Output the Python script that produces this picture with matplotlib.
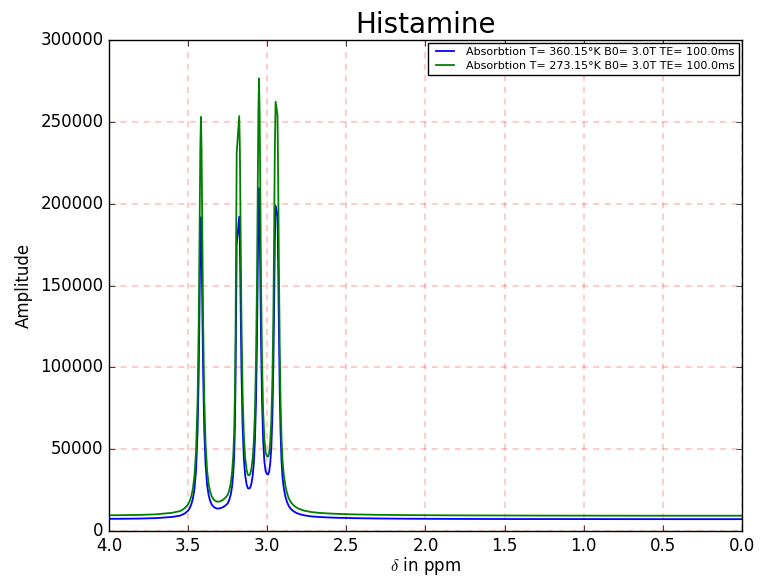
"""Histamine 1H NMR absorption spectrum at two temperatures."""
import matplotlib
matplotlib.use("Agg")
import matplotlib.pyplot as plt

# chemical shift (ppm) sample positions
ppm = [4.00, 3.90, 3.80, 3.70, 3.60, 3.55, 3.52, 3.50, 3.49, 3.48, 3.47, 3.46,
       3.45, 3.44, 3.433, 3.427, 3.423, 3.419, 3.415, 3.411, 3.405, 3.398, 3.39,
       3.38, 3.37, 3.36, 3.35, 3.335, 3.32, 3.31, 3.295, 3.28, 3.265, 3.25, 3.24,
       3.23, 3.222, 3.215, 3.209, 3.204, 3.20, 3.196, 3.193, 3.177, 3.173, 3.169,
       3.163, 3.156, 3.148, 3.14, 3.13, 3.122, 3.115, 3.108, 3.10, 3.092, 3.085,
       3.078, 3.071, 3.065, 3.06, 3.056, 3.052, 3.048, 3.044, 3.039, 3.033, 3.026,
       3.018, 3.01, 3.002, 2.995, 2.988, 2.981, 2.974, 2.967, 2.961, 2.956, 2.952,
       2.947, 2.935, 2.930, 2.926, 2.921, 2.916, 2.910, 2.903, 2.895, 2.886, 2.876,
       2.864, 2.85, 2.835, 2.815, 2.795, 2.765, 2.725, 2.68, 2.62, 2.55, 2.45,
       2.30, 2.10, 1.80, 1.40, 1.00, 0.50, 0.00]

# T = 273.15 K (green)
amp_273 = [9600, 9690, 9860, 10210, 11150, 12200, 14000, 16300, 18300, 21200,
           25800, 33600, 48500, 80800, 126700, 189300, 232700, 253000, 233400,
           190000, 127400, 81600, 54100, 37000, 28500, 23800, 21000, 18900, 18000,
           17900, 18200, 19000, 20300, 22000, 24800, 29500, 36000, 46000, 60000,
           85000, 125000, 185000, 231000, 253500, 234400, 191700, 130200, 85400,
           58800, 45300, 37100, 34300, 34000, 34700, 38000, 44400, 54500, 72000,
           103800, 151400, 208800, 255400, 276500, 255500, 209200, 152100, 104900,
           73800, 55800, 48000, 45800, 45400, 47500, 54500, 68000, 94400, 135400,
           186900, 232800, 262300, 254000, 205000, 160000, 112000, 80000, 57000,
           42500, 34000, 28000, 23500, 20000, 17500, 15800, 14300, 13400, 12400,
           11650, 11150, 10750, 10450, 10150, 9900, 9700, 9550, 9450, 9400, 9350,
           9350]

# T = 360.15 K (blue)
amp_360 = [7430, 7500, 7620, 7890, 8600, 9400, 10760, 12500, 14010, 16210,
           19690, 25600, 36870, 61330, 96070, 143460, 176310, 191680, 176840,
           143990, 96600, 61930, 41110, 28170, 21730, 18180, 16060, 14470, 13790,
           13710, 13940, 14540, 15530, 16810, 18930, 22490, 27410, 34980, 45580,
           64500, 94780, 140200, 175030, 192060, 177600, 145280, 98720, 64810,
           44670, 34450, 28240, 26120, 25900, 26430, 28930, 33770, 41420, 54660,
           78740, 114770, 158220, 193500, 209470, 193570, 158520, 115300, 79570,
           56030, 42400, 36500, 34830, 34530, 36120, 41420, 51640, 71620, 102660,
           141640, 176390, 198720, 192440, 155350, 121280, 84940, 60720, 43310,
           32330, 25900, 21360, 17950, 15300, 13410, 12120, 10990, 10300, 9550,
           8980, 8600, 8300, 8070, 7840, 7650, 7500, 7390, 7310, 7280, 7240,
           7240]

labels = ["Absorbtion T= 360.15\u00b0K B0= 3.0T TE= 100.0ms",
          "Absorbtion T= 273.15\u00b0K B0= 3.0T TE= 100.0ms"]

plt.style.use("classic")
fig = plt.figure(figsize=(7.6, 5.78), dpi=100, facecolor="white")
ax = fig.add_axes([0.1434, 0.0813, 0.8329, 0.8495])

ax.plot(ppm, amp_360, color="b", linewidth=1.3, label=labels[0])
ax.plot(ppm, amp_273, color="g", linewidth=1.3, label=labels[1])

ax.set_xlim(4.0, 0.0)
ax.set_ylim(0, 300000)
ax.set_xticks([4.0, 3.5, 3.0, 2.5, 2.0, 1.5, 1.0, 0.5, 0.0])
ax.set_xticklabels(["4.0", "3.5", "3.0", "2.5", "2.0", "1.5", "1.0", "0.5", "0.0"])
ax.ticklabel_format(axis="y", style="plain", useOffset=False)
ax.tick_params(labelsize=12)

ax.grid(True, color="red", alpha=0.2, linestyle=(0, (4.4, 3.9)), linewidth=1.5)
ax.set_axisbelow(True)

ax.set_title("Histamine", fontsize=20, y=1.0)
ax.set_xlabel(r"$\delta$ in ppm", fontsize=12, labelpad=0)
ax.set_ylabel("Amplitude", fontsize=12)

leg = ax.legend(loc="upper right", fontsize=8, borderaxespad=0.25,
                handlelength=2.2, labelspacing=0.3, borderpad=0.4)
leg.get_frame().set_edgecolor("black")

fig.savefig("out.png", dpi=100, facecolor="white")
